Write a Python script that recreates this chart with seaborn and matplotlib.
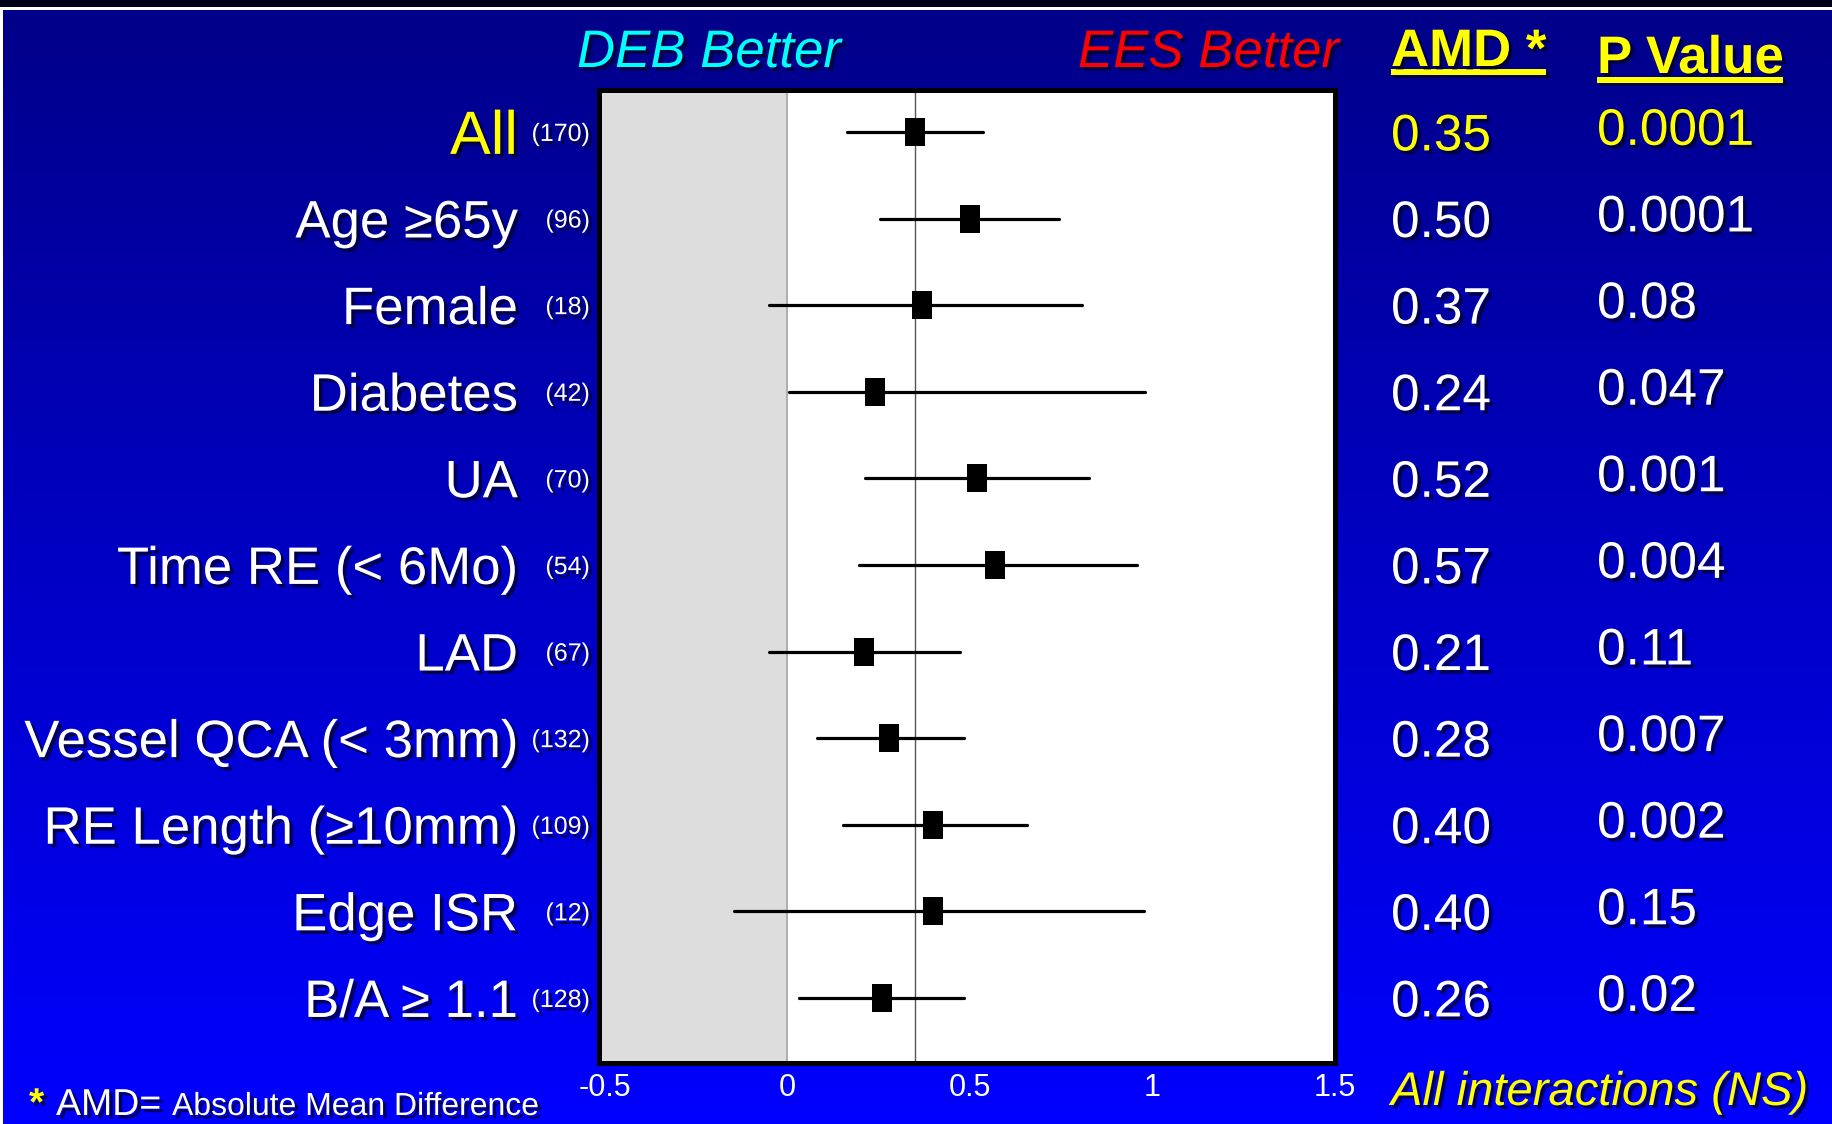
import numpy as np
import pandas as pd
import matplotlib
matplotlib.use("Agg")
import matplotlib.pyplot as plt
import seaborn as sns
from matplotlib import patheffects as pe
from matplotlib.path import Path
from matplotlib.colors import LinearSegmentedColormap
from matplotlib.transforms import blended_transform_factory, offset_copy
from matplotlib.patches import Rectangle

# ---------------- data ----------------
subgroups = ["All", "Age \u226565y", "Female", "Diabetes", "UA", "Time RE (< 6Mo)",
             "LAD", "Vessel QCA (< 3mm)", "RE Length (\u226510mm)", "Edge ISR", "B/A \u2265 1.1"]
counts = ["(170)", "(96)", "(18)", "(42)", "(70)", "(54)", "(67)", "(132)", "(109)", "(12)", "(128)"]
amd = [0.35, 0.50, 0.37, 0.24, 0.52, 0.57, 0.21, 0.28, 0.40, 0.40, 0.26]
ci_low = [0.164, 0.254, -0.049, 0.005, 0.214, 0.196, -0.049, 0.082, 0.153, -0.146, 0.032]
ci_high = [0.537, 0.745, 0.807, 0.980, 0.827, 0.957, 0.473, 0.484, 0.658, 0.976, 0.485]
p_values = ["0.0001", "0.0001", "0.08", "0.047", "0.001", "0.004", "0.11", "0.007", "0.002", "0.15", "0.02"]
x_ticks = [-0.5, 0, 0.5, 1, 1.5]
x_tick_labels = ["-0.5", "0", "0.5", "1", "1.5"]
overall_amd = 0.35

# ---------------- figure ----------------
W, H, DPI = 1833, 1124, 100
sns.set_style("white")
plt.rcParams["font.family"] = ["Liberation Sans", "DejaVu Sans"]

fig = plt.figure(figsize=(W / DPI, H / DPI), dpi=DPI)


def fx(x):
    return x / W


def fy(y):
    return 1 - y / H


# background gradient
bg = fig.add_axes([0, 0, 1, 1], zorder=-10)
grad = np.linspace(0, 1, 512).reshape(-1, 1)
cmap = LinearSegmentedColormap.from_list("bg", ["#000088", "#0000C4", "#0000FF"])
bg.imshow(grad, aspect="auto", cmap=cmap, extent=[0, 1, 0, 1], origin="upper")
bg.set_xlim(0, 1)
bg.set_ylim(0, 1)
bg.axis("off")
bg.add_patch(Rectangle((0, fy(7)), 1, 1 - fy(7), color="#000018", lw=0))
bg.add_patch(Rectangle((0, fy(9.5)), 1, fy(7) - fy(9.5), color="white", lw=0))
bg.add_patch(Rectangle((0, 0), fx(2.5), fy(9.5), color="white", lw=0))

# main axes
ax = fig.add_axes([fx(599), fy(1063), fx(1335) - fx(599), fy(90) - fy(1063)])
ax.set_facecolor("white")

long = pd.DataFrame({
    "subgroup": np.repeat(subgroups, 3),
    "value": np.column_stack([ci_low, amd, ci_high]).ravel(),
})
rect = Path([(-0.37, -0.5), (0.37, -0.5), (0.37, 0.5), (-0.37, 0.5), (-0.37, -0.5)], closed=True)

sns.pointplot(data=long, x="value", y="subgroup", order=subgroups,
              estimator="median", errorbar=("pi", 100), color="black",
              linestyles="none", marker=rect, markersize=19.5, markeredgewidth=0,
              err_kws={"linewidth": 2.3, "color": "black"}, ax=ax, zorder=5)

xmin = -0.515
ax.set_xlim(xmin, 1.5)
ax.set_ylim(10.75, -0.485)
ax.axvspan(xmin, 0, color="#DDDDDD", zorder=0, lw=0)
ax.axvline(0, color="#A8A8A8", lw=1.3, zorder=1)
ax.axvline(overall_amd, color="#555555", lw=1.0, zorder=1)

ax.set_xticks(x_ticks, x_tick_labels)
ax.set_yticks([])
ax.set_xlabel("")
ax.set_ylabel("")
ax.tick_params(axis="x", length=0, pad=7, labelsize=22, labelcolor="white")
for sp in ax.spines.values():
    sp.set_visible(True)
    sp.set_color("black")
    sp.set_linewidth(3.6)

shadow = [pe.withSimplePatchShadow(offset=(2.5, -2.5), shadow_rgbFace="#00002a", alpha=0.75)]
trans = blended_transform_factory(fig.transFigure, ax.transData)


def row_text(xpx, i, s, size, dy_pts=0.0, **kw):
    t = offset_copy(trans, fig=fig, x=0, y=-0.358 * size + dy_pts, units="points")
    fig.text(fx(xpx), i, s, transform=t, fontsize=size, va="baseline",
             path_effects=shadow, **kw)


for i, (name, n, a, p) in enumerate(zip(subgroups, counts, amd, p_values)):
    col = "#FFFF00" if i == 0 else "white"
    row_text(518, i, name, 44 if i == 0 else 38, ha="right", color=col)
    row_text(590, i, n, 18, ha="right", color="white")
    row_text(1391, i, f"{a:.2f}", 37, ha="left", color=col)
    row_text(1597, i, p, 37, dy_pts=4.0, ha="left", color=col)

# headers
fig.text(fx(577), fy(67), "DEB Better", color="#00FFFF", fontsize=38, style="italic",
         va="baseline", path_effects=shadow)
fig.text(fx(1078), fy(67), "EES Better", color="#FF0000", fontsize=38, style="italic",
         va="baseline", path_effects=shadow)
h1 = fig.text(fx(1391), fy(66), "AMD *", color="#FFFF00", fontsize=38, fontweight="bold",
              va="baseline", path_effects=shadow)
h2 = fig.text(fx(1597), fy(73), "P Value", color="#FFFF00", fontsize=38, fontweight="bold",
              va="baseline", path_effects=shadow)

# footer
fig.text(fx(29), fy(1115), "*", color="#FFFF00", fontsize=28, fontweight="bold",
         va="baseline", path_effects=shadow)
fig.text(fx(56), fy(1115), "AMD=", color="white", fontsize=27, va="baseline", path_effects=shadow)
fig.text(fx(172), fy(1115), "Absolute Mean Difference", color="white", fontsize=23,
         va="baseline", path_effects=shadow)
fig.text(fx(1391), fy(1105), "All interactions (NS)", color="#FFFF00", fontsize=34,
         style="italic", va="baseline", path_effects=shadow)

# underlines for the column headers
fig.canvas.draw()
r = fig.canvas.get_renderer()
for t, ytop in ((h1, 69), (h2, 77)):
    bb = t.get_window_extent(renderer=r)
    fig.add_artist(Rectangle((bb.x0 / W, fy(ytop + 6)), (bb.x1 - bb.x0) / W, 6 / H,
                             transform=fig.transFigure, color="#FFFF00", lw=0,
                             path_effects=shadow))

fig.savefig("out.png", dpi=DPI)
